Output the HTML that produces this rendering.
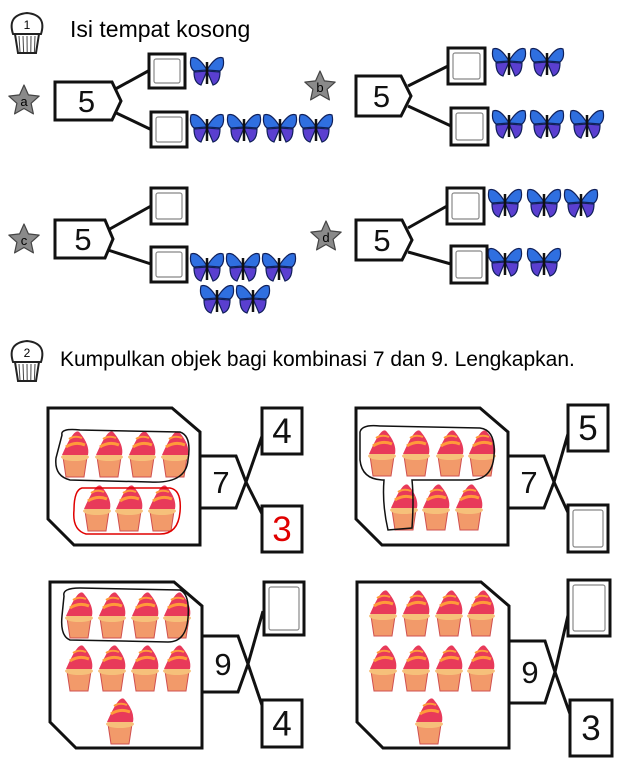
<!DOCTYPE html>
<html><head><meta charset="utf-8"><style>
html,body{margin:0;padding:0;background:#fff;}
svg{display:block;font-family:"Liberation Sans",sans-serif;}
</style></head><body>
<svg id="s" width="635" height="762" viewBox="0 0 635 762" xmlns="http://www.w3.org/2000/svg">
<text x="70" y="37" font-size="23">Isi tempat kosong</text>
<text x="60" y="366" font-size="21">Kumpulkan objek bagi kombinasi 7 dan 9. Lengkapkan.</text>
</svg>
<script>
const NS='http://www.w3.org/2000/svg';
const S=document.getElementById('s');
function el(tag,attrs,parent){const e=document.createElementNS(NS,tag);for(const k in attrs)e.setAttribute(k,attrs[k]);(parent||S).appendChild(e);return e;}
function grp(name){const g=el('g',{});return g;}

function muffinIcon(x,y,num,name){
  const g=grp(name);
  el('path',{d:`M${x+5} ${y+22} Q${x-1} ${y+3} ${x+19} ${y+1} Q${x+39} ${y+3} ${x+33} ${y+22} Z`,fill:'#fff',stroke:'#222','stroke-width':2},g);
  el('path',{d:`M${x+7} ${y+22} L${x+10} ${y+41} L${x+28} ${y+41} L${x+31} ${y+22} Z`,fill:'#fff',stroke:'#222','stroke-width':2},g);
  for(let i=0;i<5;i++)el('line',{x1:x+11+i*4,y1:y+24,x2:x+12+i*3.6,y2:y+40,stroke:'#444','stroke-width':1},g);
  const t=el('text',{x:x+19,y:y+17,'font-size':12,'text-anchor':'middle'},g);t.textContent=num;
}
function star(cx,cy,l,name){
  const g=grp(name);let p='';
  for(let i=0;i<10;i++){const r=i%2?7.5:16;const a=-Math.PI/2+i*Math.PI/5;p+=(i?'L':'M')+(cx+r*Math.cos(a)).toFixed(1)+' '+(cy+r*Math.sin(a)).toFixed(1);}
  el('path',{d:p+'Z',fill:'#8a8a8a',stroke:'#444','stroke-width':1.2,'stroke-linejoin':'round'},g);
  const t=el('text',{x:cx,y:cy+5,'font-size':13,'text-anchor':'middle'},g);t.textContent=l;
}
function pent(x,y,w,h,tip,num,name){
  const g=grp(name);
  el('path',{d:`M${x} ${y} L${x+w} ${y} L${x+w+tip} ${y+h/2} L${x+w} ${y+h} L${x} ${y+h} Z`,fill:'#fff',stroke:'#111','stroke-width':3},g);
  const t=el('text',{x:x+w/2+3,y:y+h/2+11,'font-size':31,'text-anchor':'middle',fill:'#111'},g);t.textContent=num;
}
function box(x,y,w,h,txt,color,name){
  const g=grp(name);
  el('rect',{x,y,width:w,height:h,fill:'#fff',stroke:'#111','stroke-width':3},g);
  if(txt){const t=el('text',{x:x+w/2,y:y+h/2+12,'font-size':35,'text-anchor':'middle',fill:color||'#111'},g);t.textContent=txt;}
  else el('rect',{x:x+5,y:y+5,width:w-10,height:h-10,fill:'none',stroke:'#888','stroke-width':1.2,rx:2},g);
}
function line(x1,y1,x2,y2,name){const l=el('line',{x1,y1,x2,y2,stroke:'#111','stroke-width':3});}
function fly(x,y,name){
  const g=grp(name);
  el('path',{d:`M${x+17} ${y+13} Q${x+8} ${y-2} ${x+1} ${y+1} Q${x-1} ${y+10} ${x+4} ${y+14} Z`,fill:'#2f6fe0',stroke:'#10205a','stroke-width':1.2},g);
  el('path',{d:`M${x+17} ${y+13} Q${x+26} ${y-2} ${x+33} ${y+1} Q${x+35} ${y+10} ${x+30} ${y+14} Z`,fill:'#2f6fe0',stroke:'#10205a','stroke-width':1.2},g);
  el('path',{d:`M${x+17} ${y+14} L${x+4} ${y+15} Q${x+4} ${y+26} ${x+11} ${y+28} Z`,fill:'#5a3fd0',stroke:'#10205a','stroke-width':1.2},g);
  el('path',{d:`M${x+17} ${y+14} L${x+30} ${y+15} Q${x+30} ${y+26} ${x+23} ${y+28} Z`,fill:'#5a3fd0',stroke:'#10205a','stroke-width':1.2},g);
  el('line',{x1:x+17,y1:y+5,x2:x+17,y2:y+27,stroke:'#111','stroke-width':2.5},g);
}
function cake(x,y,name){
  const g=grp(name);
  el('path',{d:`M${x+3} ${y+24} L${x+27} ${y+24} L${x+24} ${y+44} L${x+6} ${y+44} Z`,fill:'#f29a6a',stroke:'#d05050','stroke-width':1},g);
  el('ellipse',{cx:x+15,cy:y+24,rx:14,ry:4,fill:'#f6c07a'},g);
  el('path',{d:`M${x+2} ${y+22} Q${x+15} ${y-8} ${x+20} ${y} Q${x+30} ${y+12} ${x+28} ${y+22} Z`,fill:'#e83a5a'},g);
  el('path',{d:`M${x+6} ${y+14} Q${x+15} ${y+8} ${x+25} ${y+12}`,fill:'none',stroke:'#ff9a3a','stroke-width':3},g);
  el('path',{d:`M${x+9} ${y+6} Q${x+15} ${y+2} ${x+22} ${y+5}`,fill:'none',stroke:'#ff9a3a','stroke-width':2},g);
}
function panel(x,y,w,h,name){
  const p=el('path',{d:`M${x} ${y} L${x+w-28} ${y} L${x+w} ${y+24} L${x+w} ${y+h} L${x+26} ${y+h} L${x} ${y+h-26} Z`,fill:'#fff',stroke:'#111','stroke-width':3});
  
}

muffinIcon(8,12,'1','section-1-icon');
muffinIcon(8,340,'2','section-2-icon');

star(24,101,'a','star-a');
line(110,92,150,70,'branch-a-top');line(110,110,152,130,'branch-a-bottom');
pent(55,82,57,38,9,'5','number-a');
box(149,54,36,34,'','','answer-a-top');box(151,112,36,35,'','','answer-a-bottom');
fly(190,57,'butterfly-a-1');
[190,227,263,299].forEach((bx,i)=>fly(bx,114,'butterfly-a-'+(i+2)));
star(320,87,'b','star-b');
line(408,86,448,66,'branch-b-top');line(408,106,451,126,'branch-b-bottom');
pent(356,76,45,40,10,'5','number-b');
box(448,48,37,36,'','','answer-b-top');box(451,108,37,37,'','','answer-b-bottom');
[492,530].forEach((bx,i)=>fly(bx,48,'butterfly-b-'+(i+1)));
[492,530,570].forEach((bx,i)=>fly(bx,110,'butterfly-b-'+(i+3)));
star(24,240,'c','star-c');
line(108,230,151,206,'branch-c-top');line(108,250,151,264,'branch-c-bottom');
pent(55,220,50,38,8,'5','number-c');
box(151,188,36,36,'','','answer-c-top');box(151,247,36,35,'','','answer-c-bottom');
[190,226,262].forEach((bx,i)=>fly(bx,253,'butterfly-c-'+(i+1)));
[200,236].forEach((bx,i)=>fly(bx,285,'butterfly-c-'+(i+4)));
star(326,237,'d','star-d');
line(408,228,447,206,'branch-d-top');line(408,252,451,264,'branch-d-bottom');
pent(356,220,46,40,10,'5','number-d');
box(447,188,37,36,'','','answer-d-top');box(451,246,36,37,'','','answer-d-bottom');
[488,527,564].forEach((bx,i)=>fly(bx,189,'butterfly-d-'+(i+1)));
[488,527].forEach((bx,i)=>fly(bx,248,'butterfly-d-'+(i+4)));

function combo(px,py,ph,pentY,pentH,bx,tb,bb,num,tTxt,bTxt,bColor,id){
  panel(px,py,152,ph,'cupcake-panel-'+id);
  pent(px+152,pentY,36,pentH,10,num,'total-'+id);
  line(bx+1,tb[1]+tb[3]*0.55,px+198,pentY+pentH/2,'cross-'+id+'-a');
  line(px+198,pentY+pentH/2,bx+3,bb[1]+bb[3]*0.3,'cross-'+id+'-b');
  box(tb[0],tb[1],tb[2],tb[3],tTxt,'#111','part-'+id+'-top');
  box(bb[0],bb[1],bb[2],bb[3],bTxt,bColor,'part-'+id+'-bottom');
}
combo(48,408,137,456,52,262,[262,408,40,46],[262,506,40,46],'7','4','3','#e00000','1');
combo(356,408,137,456,52,568,[568,405,40,46],[568,505,40,47],'7','5','','#111','2');
combo(50,582,166,636,56,262,[264,582,40,53],[262,700,40,47],'9','','4','#111','3');
combo(357,582,166,641,62,568,[568,580,42,56],[570,700,42,56],'9','','3','#111','4');

function loop(d,c,name){const p=el('path',{d,fill:'none',stroke:c,'stroke-width':1.5});}
[60,94,127,160].forEach((x,i)=>cake(x,433,'cupcake-1-'+(i+1)));
[82,114,147].forEach((x,i)=>cake(x,487,'cupcake-1-'+(i+5)));
loop('M62 435 Q60 428 80 430 L180 432 Q192 436 188 460 Q186 484 150 482 L70 480 Q54 476 56 458 Z','#111','group-loop-1');
loop('M82 488 L170 488 Q182 490 180 512 Q178 534 160 534 L86 534 Q72 530 74 510 Q74 490 82 488 Z','#e00000','group-loop-2');
[367,401,435,467].forEach((x,i)=>cake(x,432,'cupcake-2-'+(i+1)));
[389,421,454].forEach((x,i)=>cake(x,486,'cupcake-2-'+(i+5)));
loop('M360 432 Q362 424 380 426 L480 428 Q496 430 494 456 Q492 480 470 480 L412 480 Q414 500 412 528 L388 530 Q382 504 384 480 Q362 480 360 460 Z','#111','group-loop-3');
[64,97,130,162].forEach((x,i)=>cake(x,594,'cupcake-3-'+(i+1)));
[64,97,130,162].forEach((x,i)=>cake(x,647,'cupcake-3-'+(i+5)));
cake(105,700,'cupcake-3-9');
loop('M64 596 Q62 588 80 588 L180 590 Q190 594 188 618 Q186 642 168 642 L70 640 Q60 636 62 616 Z','#111','group-loop-4');
[368,401,434,466].forEach((x,i)=>cake(x,592,'cupcake-4-'+(i+1)));
[368,401,434,466].forEach((x,i)=>cake(x,647,'cupcake-4-'+(i+5)));
cake(414,700,'cupcake-4-9');
</script>
</body></html>
